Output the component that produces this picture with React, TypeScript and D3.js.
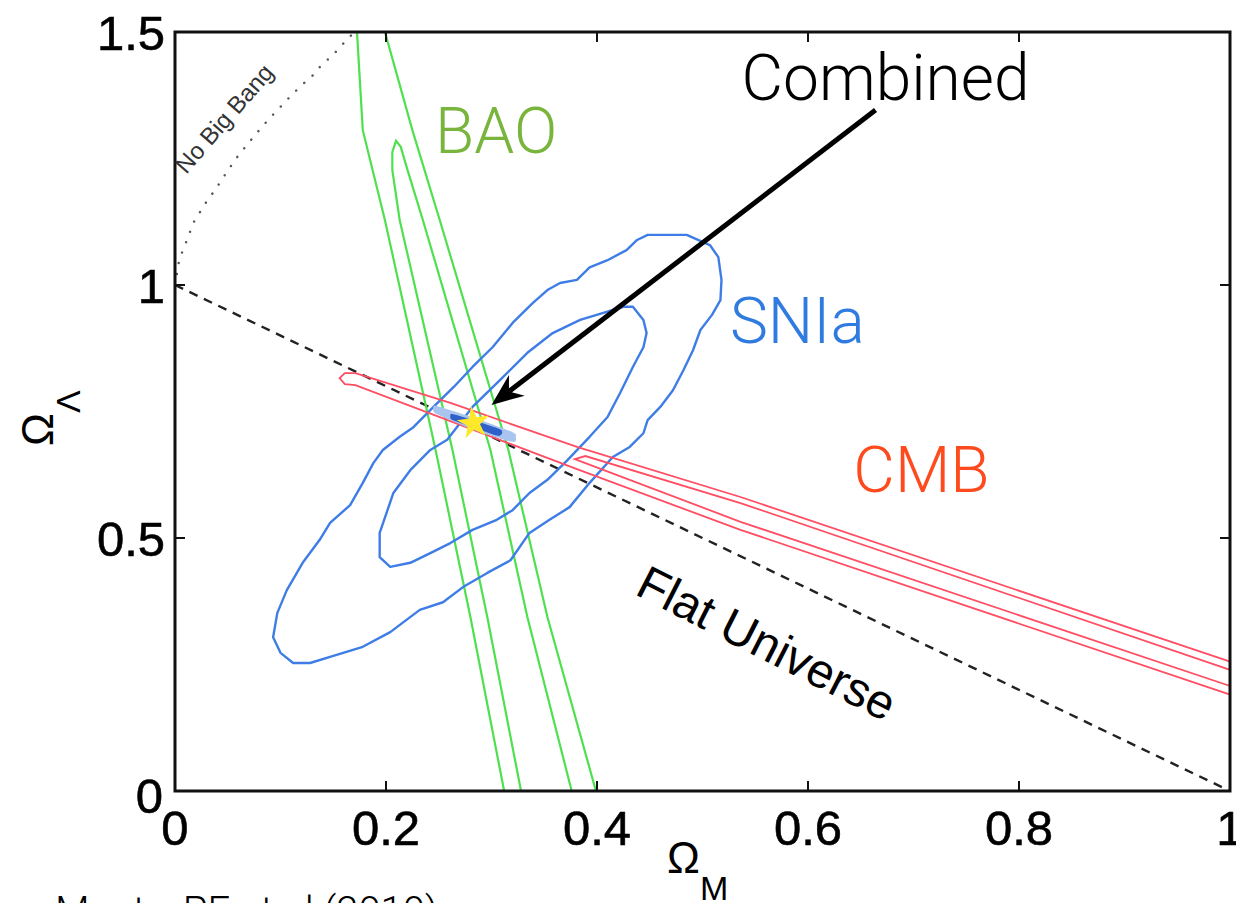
import React from "react"
import * as d3 from "d3"

// tick values
const omegaMTicks = [0, 0.2, 0.4, 0.6, 0.8, 1]
const omegaLTicks = [0, 0.5, 1, 1.5]

// BAO contours [Ω_M, Ω_Λ]
const baoOuter = [
  [0.171, 1.543], [0.1725, 1.5], [0.178, 1.306], [0.199, 1.128], [0.247, 0.674],
  [0.280, 0.344], [0.312, 0.0], [0.318, -0.057],
  [0.407, -0.057], [0.399, 0.0], [0.353, 0.344], [0.316, 0.674], [0.251, 1.128],
  [0.225, 1.306], [0.199, 1.5], [0.194, 1.543],
]
const baoInner = [
  [0.332, -0.057], [0.328, 0.0], [0.296, 0.344], [0.263, 0.674], [0.213, 1.128],
  [0.206, 1.227], [0.206, 1.263], [0.2095, 1.285], [0.214, 1.273], [0.219, 1.237],
  [0.235, 1.128], [0.299, 0.674], [0.334, 0.344], [0.376, 0.0], [0.382, -0.057],
]

// SNIa contours
const sniaOuter = [
  [0.448, 1.099], [0.485, 1.099], [0.507, 1.079], [0.515, 1.055], [0.518, 1.010],
  [0.517, 0.970], [0.509, 0.941], [0.498, 0.911], [0.491, 0.871], [0.482, 0.832],
  [0.472, 0.792], [0.460, 0.759], [0.448, 0.733], [0.444, 0.707], [0.431, 0.680],
  [0.415, 0.660], [0.393, 0.609], [0.374, 0.561], [0.355, 0.536], [0.336, 0.510],
  [0.318, 0.456], [0.296, 0.431], [0.273, 0.403], [0.254, 0.373], [0.232, 0.358],
  [0.204, 0.314], [0.178, 0.285], [0.147, 0.265], [0.128, 0.253], [0.112, 0.253],
  [0.100, 0.273], [0.093, 0.304], [0.097, 0.352], [0.106, 0.397], [0.121, 0.451],
  [0.137, 0.496], [0.147, 0.530], [0.166, 0.565], [0.178, 0.609], [0.188, 0.648],
  [0.197, 0.674], [0.213, 0.700], [0.226, 0.719], [0.245, 0.759], [0.264, 0.798],
  [0.282, 0.838], [0.301, 0.877], [0.320, 0.925], [0.339, 0.964], [0.353, 0.990],
  [0.365, 1.004], [0.381, 1.010], [0.393, 1.035], [0.410, 1.049], [0.428, 1.069],
  [0.438, 1.089],
]
const sniaInner = [
  [0.434, 0.957], [0.444, 0.931], [0.447, 0.905], [0.444, 0.877], [0.434, 0.838],
  [0.422, 0.787], [0.410, 0.739], [0.393, 0.700], [0.372, 0.654], [0.353, 0.615],
  [0.336, 0.589], [0.320, 0.555], [0.305, 0.536], [0.282, 0.516], [0.261, 0.490],
  [0.242, 0.470], [0.223, 0.451], [0.204, 0.443], [0.194, 0.462], [0.194, 0.510],
  [0.207, 0.589], [0.223, 0.634], [0.242, 0.674], [0.258, 0.694], [0.282, 0.759],
  [0.308, 0.812], [0.334, 0.866], [0.358, 0.905], [0.384, 0.931], [0.406, 0.945],
  [0.425, 0.957],
]

// CMB contours
const cmbOuter = [
  [0.156, 0.816], [0.161, 0.826], [0.171, 0.826], [0.261, 0.767], [0.381, 0.680],
  [0.536, 0.581], [0.998, 0.257], [1.028, 0.235], [1.028, 0.170], [0.998, 0.192],
  [0.536, 0.516], [0.381, 0.636], [0.261, 0.731], [0.171, 0.802], [0.161, 0.804],
]
const cmbInner = [
  [0.379, 0.656], [0.389, 0.662], [0.536, 0.569], [0.998, 0.241], [1.028, 0.219],
  [1.028, 0.186], [0.998, 0.209], [0.536, 0.532], [0.389, 0.648],
]

// combined constraint
const combined95 = [
  [0.245, 0.755], [0.248, 0.761], [0.284, 0.737], [0.320, 0.709], [0.323, 0.700],
  [0.320, 0.690], [0.284, 0.713], [0.248, 0.745],
]
const combined68 = [
  [0.261, 0.741], [0.263, 0.745], [0.285, 0.731], [0.308, 0.715], [0.310, 0.707],
  [0.306, 0.702], [0.285, 0.717], [0.263, 0.733],
]
const bestFit = [0.283, 0.727]

// flat universe and no-big-bang boundary
const flatLine = [[0, 1], [1, 0]]
const noBigBang = [
  [0.0, 1.0], [0.004, 1.05], [0.0095, 1.079], [0.018, 1.125], [0.029, 1.162], [0.040, 1.194],
  [0.049, 1.223], [0.059, 1.253], [0.069, 1.279], [0.079, 1.304], [0.089, 1.328],
  [0.099, 1.350], [0.109, 1.372], [0.119, 1.393], [0.130, 1.413], [0.139, 1.435],
  [0.150, 1.455], [0.159, 1.476], [0.170, 1.5],
]

// annotation anchors (data units)
const arrowFrom = [0.664, 1.346]
const arrowTo = [0.300, 0.763]

const W = 1236
const H = 903
const left = 175, right = 1230, top = 32, bottom = 791

export default function App() {
  const x = d3.scaleLinear().domain([0, 1]).range([left, right])
  const y = d3.scaleLinear().domain([0, 1.5]).range([bottom, top])

  const line = d3.line().x(d => x(d[0])).y(d => y(d[1]))
  const closed = d3.line().x(d => x(d[0])).y(d => y(d[1])).curve(d3.curveLinearClosed)
  const smoothClosed = d3.line().x(d => x(d[0])).y(d => y(d[1])).curve(d3.curveCardinalClosed.tension(0.3))

  // arrow head
  const ax0 = x(arrowFrom[0]), ay0 = y(arrowFrom[1])
  const ax1 = x(arrowTo[0]), ay1 = y(arrowTo[1])
  const len = Math.hypot(ax1 - ax0, ay1 - ay0)
  const ux = (ax1 - ax0) / len, uy = (ay1 - ay0) / len
  const nx = -uy, ny = ux
  const hl = 32, hw = 13, notch = 22
  const head = [
    [ax1, ay1],
    [ax1 - ux * hl + nx * hw, ay1 - uy * hl + ny * hw],
    [ax1 - ux * notch, ay1 - uy * notch],
    [ax1 - ux * hl - nx * hw, ay1 - uy * hl - ny * hw],
  ]

  const star = d3.symbol().type(d3.symbolStar).size(330)()

  const lightFont = "Roboto, 'Helvetica Neue', sans-serif"
  const axisFont = "'Liberation Sans', Arial, sans-serif"

  return (
    <div style={{ position: "absolute", left: 0, top: 0 }}>
      <svg width={W} height={H} style={{ display: "block", background: "#fff" }}>
        <defs>
          <clipPath id="plot">
            <rect x={left} y={top} width={right - left} height={bottom - top} />
          </clipPath>
        </defs>

        <g clipPath="url(#plot)">
          <path d={line(noBigBang)} fill="none" stroke="#555" strokeWidth={2.4}
            strokeDasharray="0.1 11" strokeLinecap="round" />
          <path d={line(flatLine)} fill="none" stroke="#222" strokeWidth={2.4} strokeDasharray="9 7" />

          <path d={closed(baoOuter)} fill="none" stroke="#4fe04f" strokeWidth={2.2} />
          <path d={line(baoInner)} fill="none" stroke="#4fe04f" strokeWidth={2.2} />

          <path d={closed(sniaOuter)} fill="none" stroke="#3f7de6" strokeWidth={2.4} strokeLinejoin="round" />
          <path d={closed(sniaInner)} fill="none" stroke="#3f7de6" strokeWidth={2.4} strokeLinejoin="round" />

          <path d={closed(cmbOuter)} fill="none" stroke="#ff4d63" strokeWidth={1.8} />
          <path d={closed(cmbInner)} fill="none" stroke="#ff4d63" strokeWidth={1.8} />

          <path d={smoothClosed(combined95)} fill="#a9c4ee" />
          <path d={smoothClosed(combined68)} fill="#2f5fc9" />
          <path d={star} transform={`translate(${x(bestFit[0])},${y(bestFit[1])}) rotate(-8)`} fill="#ffe82a" />
        </g>

        {/* frame */}
        <rect x={left} y={top} width={right - left} height={bottom - top} fill="none" stroke="#111" strokeWidth={3} />

        {/* ticks */}
        {omegaMTicks.map(t => (
          <g key={"xt" + t}>
            <line x1={x(t)} x2={x(t)} y1={bottom} y2={bottom - 10} stroke="#111" strokeWidth={2} />
            <line x1={x(t)} x2={x(t)} y1={top} y2={top + 10} stroke="#111" strokeWidth={2} />
            <text x={x(t)} y={845} textAnchor="middle" fontFamily={axisFont} fontSize={49} fill="#000"
              stroke="#000" strokeWidth={0.6}>{d3.format("~g")(t)}</text>
          </g>
        ))}
        {omegaLTicks.map(t => (
          <g key={"yt" + t}>
            <line x1={left} x2={left + 10} y1={y(t)} y2={y(t)} stroke="#111" strokeWidth={2} />
            <line x1={right} x2={right - 10} y1={y(t)} y2={y(t)} stroke="#111" strokeWidth={2} />
            <text x={165} y={y(t) + 18 + (t === 0 ? 4 : 0)} textAnchor="end" fontFamily={axisFont} fontSize={49}
              dx={t === 0 ? -2 : 0} fill="#000" stroke="#000" strokeWidth={0.6}>{d3.format("~g")(t)}</text>
          </g>
        ))}

        {/* axis titles */}
        <text x={667} y={873} fontFamily={axisFont} fontSize={44} fill="#000">
          Ω<tspan fontSize={34} dy={27}>M</tspan>
        </text>
        <text transform="translate(53,446) rotate(-90)" fontFamily={axisFont} fontSize={44} fill="#000">
          Ω<tspan fontSize={34} dy={27}>Λ</tspan>
        </text>

        {/* annotations */}
        <line x1={ax0} y1={ay0} x2={ax1 - ux * notch} y2={ay1 - uy * notch} stroke="#000" strokeWidth={5} />
        <polygon points={head.map(p => p.join(",")).join(" ")} fill="#000" />

        <text x={x(0.537)} y={y(1.366)} fontFamily={lightFont} fontWeight={300} fontSize={64} fill="#000">Combined</text>
        <text x={x(0.2465)} y={y(1.261)} fontFamily={lightFont} fontWeight={300} fontSize={64} fill="#79b43c">BAO</text>
        <text x={x(0.526)} y={y(0.885)} fontFamily={lightFont} fontWeight={300} fontSize={64} fill="#2f7be0">SNIa</text>
        <text x={x(0.643)} y={y(0.591)} fontFamily={lightFont} fontWeight={300} fontSize={64} fill="#ff4a1e">CMB</text>

        <text transform={`translate(${x(0.561)},${y(0.292)}) rotate(27)`} textAnchor="middle" dominantBaseline="central"
          fontFamily={axisFont} fontSize={48} fill="#000">Flat Universe</text>
        <text transform={`translate(${x(0.0465)},${y(1.329)}) rotate(-49)`} textAnchor="middle" dominantBaseline="central"
          fontFamily={axisFont} fontSize={24} fill="#333">No Big Bang</text>

        <text x={55} y={925} fontFamily={lightFont} fontWeight={300} fontSize={40} fill="#000">Mantz, PE et al (2010)</text>
      </svg>
    </div>
  )
}
